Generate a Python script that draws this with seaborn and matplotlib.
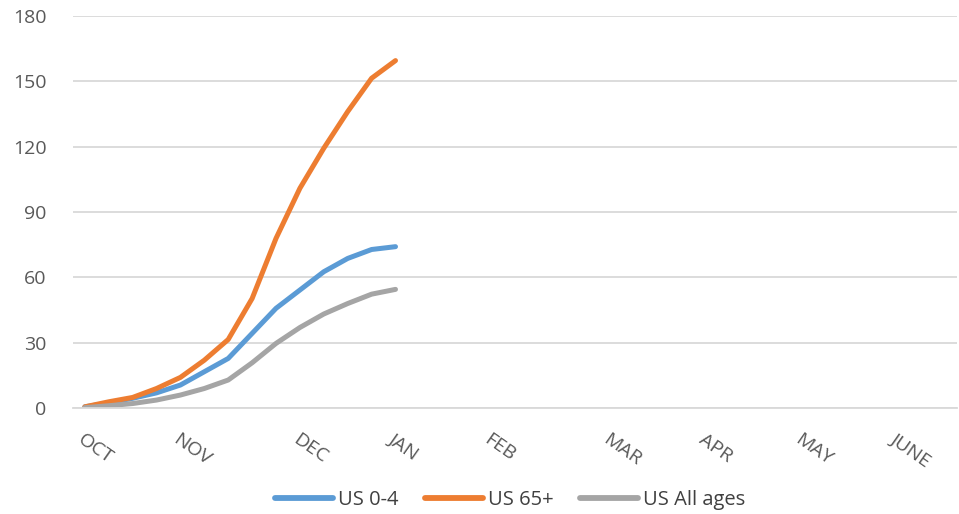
import pandas as pd
import matplotlib
matplotlib.use("Agg")
import matplotlib.pyplot as plt
import seaborn as sns

# weekly cumulative values (week 0 = start of OCT)
weeks = list(range(14))
us_0_4 = [0.6, 2.4, 4.5, 7.0, 10.6, 16.7, 22.8, 34.3, 45.8, 54.2, 62.6, 68.7, 72.8, 74.1]
us_65 = [0.6, 2.9, 4.9, 9.0, 14.1, 22.0, 31.5, 50.3, 77.9, 100.9, 119.3, 136.1, 151.4, 159.5]
us_all = [0.2, 1.1, 2.1, 3.7, 6.0, 9.0, 12.9, 20.8, 29.7, 37.0, 43.2, 48.0, 52.3, 54.5]

series_names = ["US 0-4", "US 65+", "US All ages"]
colors = ["#5B9BD5", "#ED7D31", "#A5A5A5"]

# month labels sit on these week slots of the category axis (37 weeks)
n_weeks = 37
month_pos = [0, 4, 9, 13, 17, 22, 26, 30, 34]
month_labels = ["OCT", "NOV", "DEC", "JAN", "FEB", "MAR", "APR", "MAY", "JUNE"]
y_ticks = [0, 30, 60, 90, 120, 150, 180]

df = pd.DataFrame({
    "week": weeks * 3,
    "rate": us_0_4 + us_65 + us_all,
    "group": [series_names[0]] * 14 + [series_names[1]] * 14 + [series_names[2]] * 14,
})

sns.set_theme(style="white")
plt.rcParams['font.family'] = ['Open Sans', 'DejaVu Sans']

fig = plt.figure(figsize=(9.59, 5.14), dpi=100)
ax = fig.add_axes([0.076, 0.206, 0.922, 0.763])

sns.lineplot(data=df, x="week", y="rate", hue="group", palette=colors,
             linewidth=3.6, solid_capstyle="round", ax=ax, legend=False)

ax.set_xlim(-0.5, n_weeks - 0.5)
ax.set_ylim(0, 180)
ax.set_yticks(y_ticks)
ax.yaxis.grid(True, color="#D9D9D9", linewidth=1.3)
ax.set_axisbelow(True)
ax.set_xlabel("")
ax.set_ylabel("")

ax.set_xticks(month_pos)
ax.set_xticklabels(month_labels, rotation=-35, ha="left", va="top",
                   rotation_mode="anchor")
ax.tick_params(axis="x", length=0, pad=16, labelsize=14, labelcolor="#595959")
ax.tick_params(axis="y", length=0, pad=19, labelsize=14, labelcolor="#595959")

for side in ["top", "right", "left"]:
    ax.spines[side].set_visible(False)
ax.spines["bottom"].set_color("#D9D9D9")
ax.spines["bottom"].set_linewidth(1.3)

handles = [plt.Line2D([0], [0], color=c, linewidth=4.2, solid_capstyle="round")
           for c in colors]
fig.legend(handles, series_names, loc="center", bbox_to_anchor=(0.532, 0.028),
           ncol=3, frameon=False, fontsize=14.5, handlelength=2.9,
           handletextpad=0.25, columnspacing=1.3, labelcolor="#404040")

fig.savefig("out.png", dpi=100)
